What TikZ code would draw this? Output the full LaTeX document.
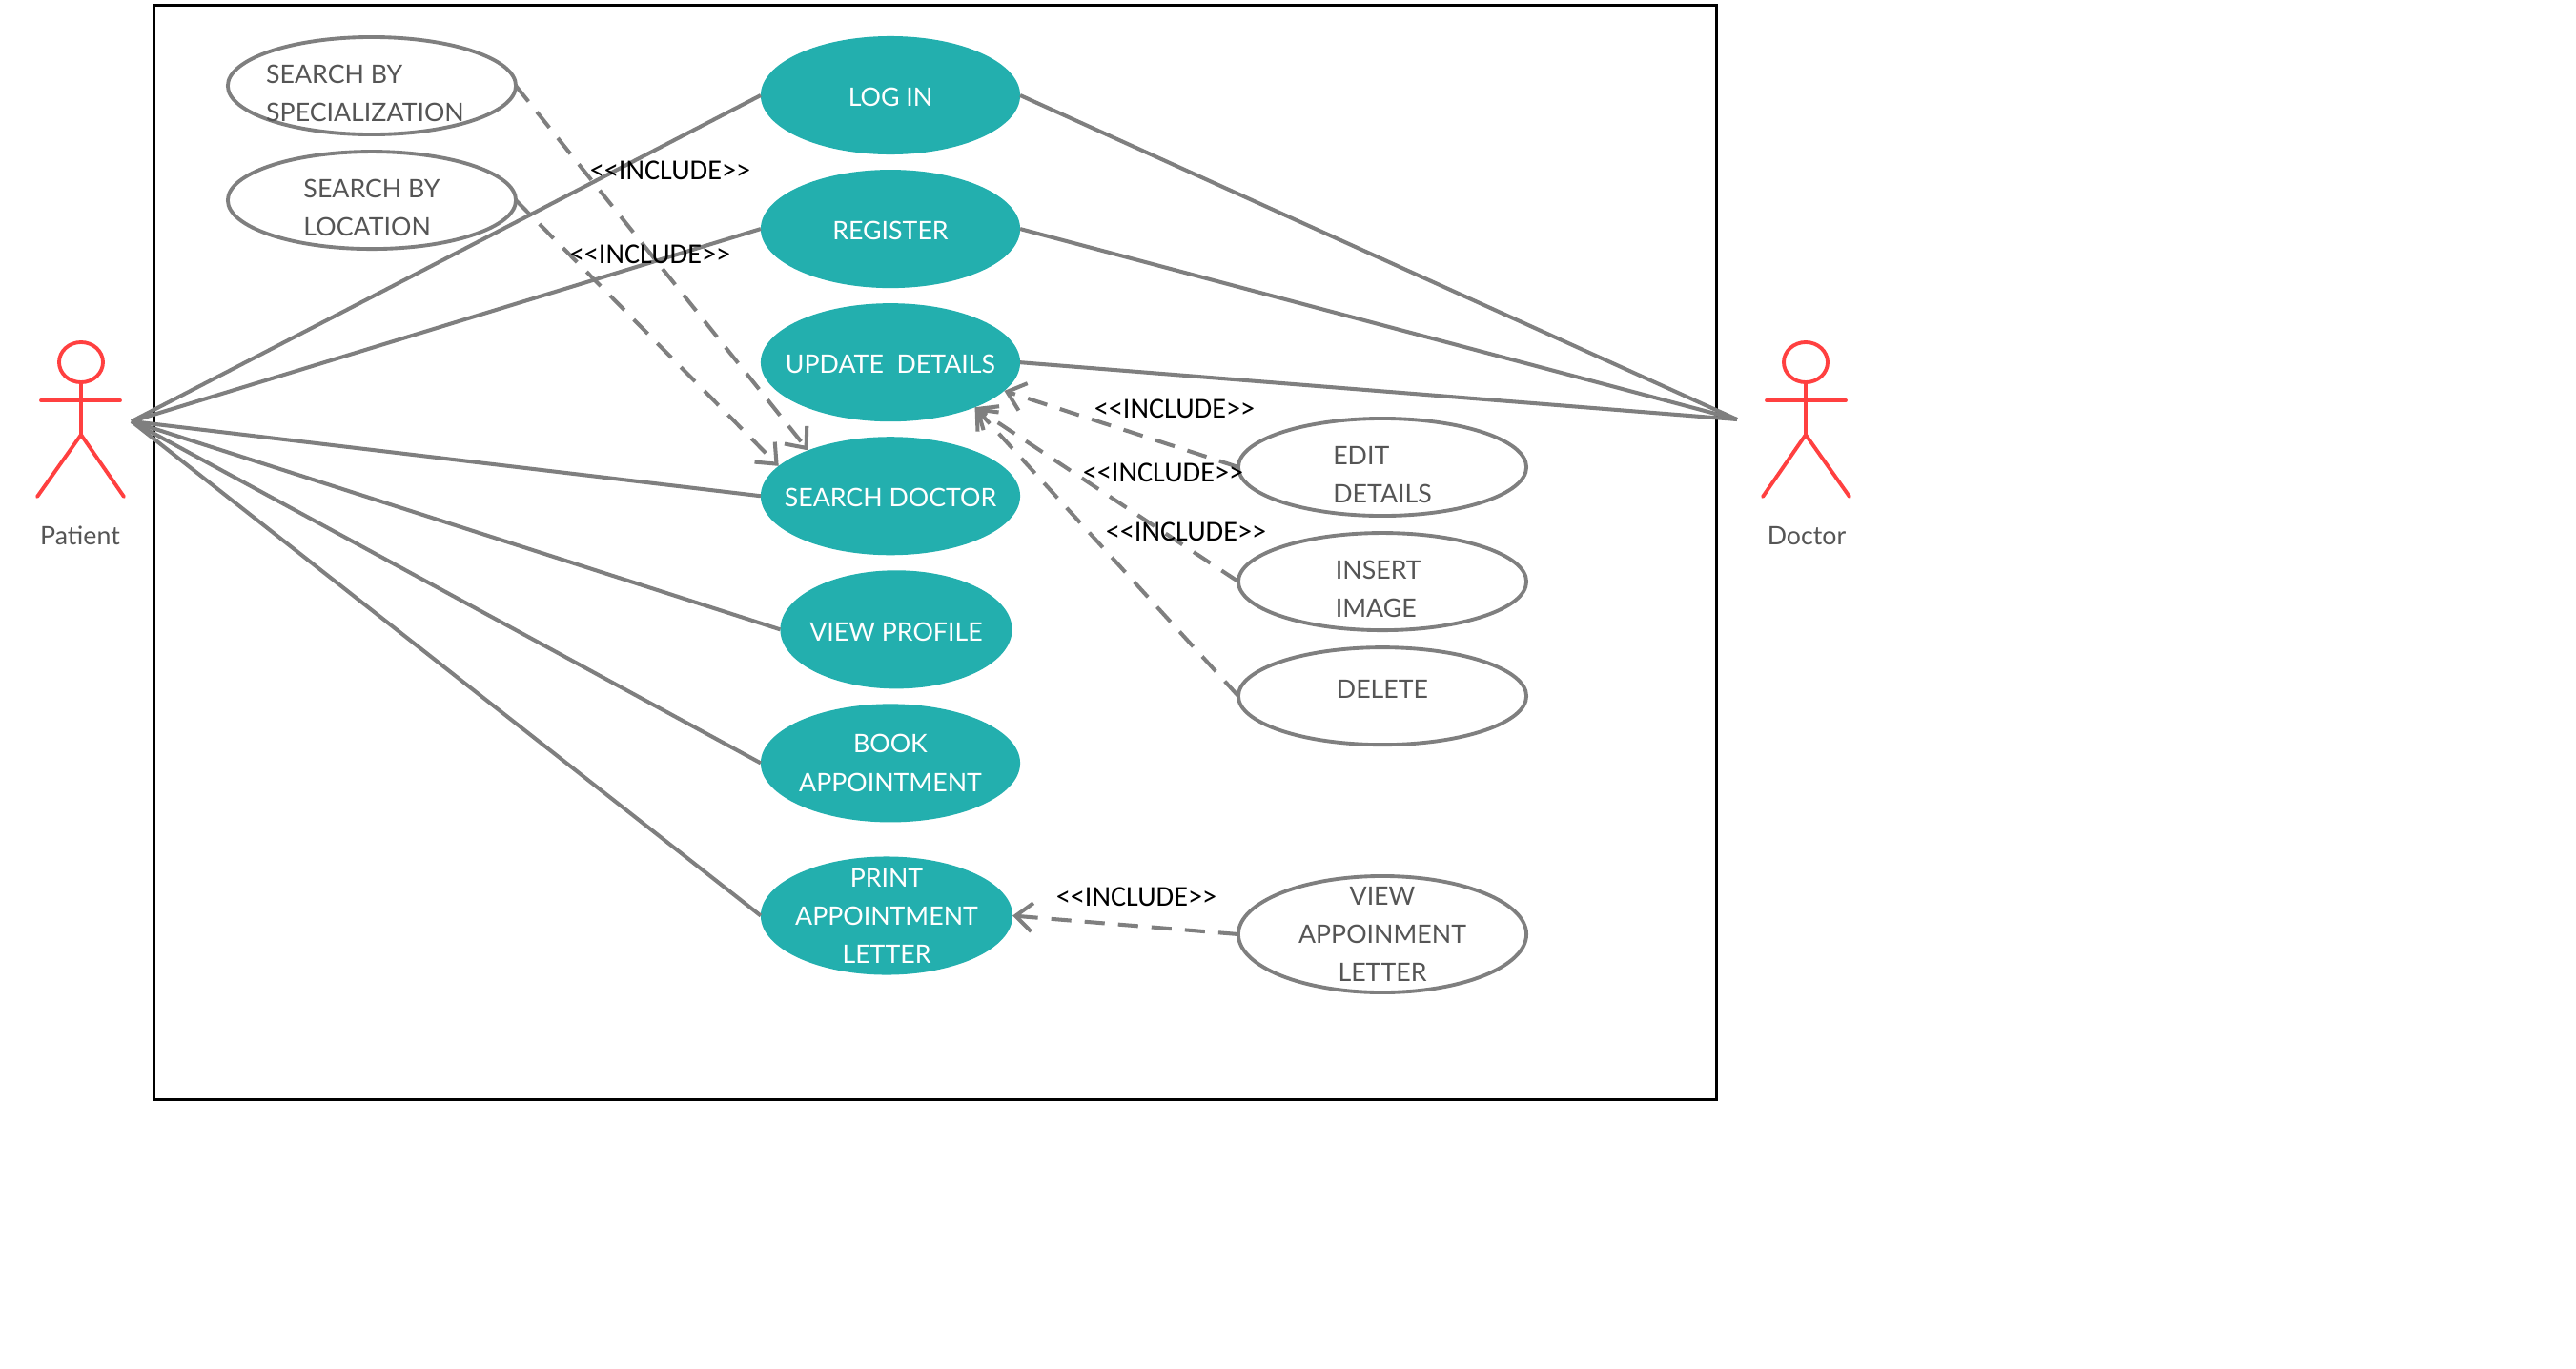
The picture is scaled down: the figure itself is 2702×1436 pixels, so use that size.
\documentclass[tikz,border=0pt]{standalone}
\usepackage{fontspec}
\setmainfont{Lato}
\newfontfamily\includefont{Carlito}
\usepackage{tikz}
\usetikzlibrary{positioning,arrows.meta,shapes.geometric}
\usepackage{xcolor}
\definecolor{ucteal}{HTML}{23AFAE}
\definecolor{ucgray}{HTML}{7F7F7F}
\definecolor{uctext}{HTML}{555555}
\definecolor{actorred}{HTML}{FF4040}

\begin{document}
\begin{tikzpicture}[
  x=0.01cm, y=-0.01cm,
  >={Straight Barb[length=5pt,width=8.5pt]},
  font=\fontsize{7.6}{11.4}\selectfont,
  usecase/.style={ellipse, fill=ucteal, inner sep=0pt, outer sep=0pt, minimum width=2.72cm, minimum height=1.24cm},
  subcase/.style={ellipse, draw=ucgray, line width=1.1pt, inner sep=0pt, outer sep=0pt, minimum width=3.02cm, minimum height=1.02cm},
  tealtext/.style={text=white, align=center, inner sep=0pt},
  tealone/.style={tealtext, yshift=-0.6pt},
  subtext/.style={text=uctext, align=left, inner sep=0pt},
  actorhead/.style={ellipse, draw=actorred, line width=1.1pt, inner sep=0pt, minimum width=0.46cm, minimum height=0.42cm},
  actorline/.style={draw=actorred, line width=1.1pt, line cap=round},
  actorname/.style={text=uctext},
  assoc/.style={draw=ucgray, line width=1.15pt},
  incl/.style={->, draw=ucgray, line width=1.15pt, dash pattern=on 6pt off 4pt},
  incllabel/.style={font=\includefont\fontsize{8.6}{10}\selectfont, text=black, inner sep=0pt},
]
\useasboundingbox (0,0) rectangle (2702,1436);

% System boundary
\node[draw=black, line width=0.9pt, inner sep=0pt, minimum width=16.38cm, minimum height=11.47cm] (system) at (981,579.5) {};

% Main use cases
\node[usecase, label={[tealone]center:LOG IN}] (login) at (934,100) {};
\node[usecase, below=0.16cm of login, label={[tealone]center:REGISTER}] (register) {};
\node[usecase, below=0.16cm of register, label={[tealone]center:UPDATE\ \ DETAILS}] (update) {};
\node[usecase, below=0.16cm of update, label={[tealone]center:SEARCH DOCTOR}] (search) {};
\node[usecase, below=0.16cm of search, xshift=0.06cm, minimum width=2.43cm, label={[tealone]center:VIEW PROFILE}] (profile) {};
\node[usecase, below=0.16cm of profile, xshift=-0.06cm, label={[tealtext]center:BOOK\\APPOINTMENT}] (book) {};
\node[usecase, below=0.36cm of book, xshift=-0.04cm, minimum width=2.64cm, label={[tealtext]center:PRINT\\APPOINTMENT\\LETTER}] (print) {};

% Included use cases
\node[subcase, label={[subtext, xshift=-2pt, yshift=-2.2pt]center:SEARCH BY\\SPECIALIZATION}] (byspec) at (390,90) {};
\node[subcase, below=0.18cm of byspec, label={[subtext, yshift=-2.2pt]center:SEARCH BY\\LOCATION}] (byloc) {};
\node[subcase, label={[subtext, yshift=-2.2pt]center:EDIT\\DETAILS}] (edit) at (1450,490) {};
\node[subcase, below=0.18cm of edit, label={[subtext, xshift=-1.2pt, yshift=-2.2pt]center:INSERT\\IMAGE}] (insert) {};
\node[subcase, below=0.18cm of insert, label={[subtext, yshift=2pt]center:DELETE}] (delete) {};
\node[subcase, minimum height=1.22cm, label={[subtext, align=center]center:VIEW\\APPOINMENT\\LETTER}] (viewletter) at (1450,980) {};

% Patient
\node[actorhead] (phead) at (85,380) {};
\coordinate (phip) at (85,456);
\coordinate (parml) at (43,420);
\coordinate (parmr) at (126,420);
\coordinate (plegl) at (39,521);
\coordinate (plegr) at (130,521);
\draw[actorline] (phead.south) -- (phip);
\draw[actorline] (parml) -- (parmr);
\draw[actorline] (plegl) -- (phip) -- (plegr);
\node[actorname] (patient) at (84,562) {Patient};

% Doctor
\node[actorhead] (dhead) at (1894,380) {};
\coordinate (dhip) at (1894,456);
\coordinate (darml) at (1853,420);
\coordinate (darmr) at (1936,420);
\coordinate (dlegl) at (1849,521);
\coordinate (dlegr) at (1940,521);
\draw[actorline] (dhead.south) -- (dhip);
\draw[actorline] (darml) -- (darmr);
\draw[actorline] (dlegl) -- (dhip) -- (dlegr);
\node[actorname] (doctor) at (1895,562) {Doctor};

% Association hubs
\coordinate (phub) at (138,442);
\coordinate (dhub) at (1822,440);

% Patient links
\draw[assoc] (phub) -- (login.west);
\draw[assoc] (phub) -- (register.west);
\draw[assoc] (phub) -- (search.west);
\draw[assoc] (phub) -- (profile.west);
\draw[assoc] (phub) -- (book.west);
\draw[assoc] (phub) -- (print.west);

% Doctor links
\draw[assoc] (login.east) -- (dhub);
\draw[assoc] (register.east) -- (dhub);
\draw[assoc] (update.east) -- (dhub);

% Include links
\draw[incl] (byspec.east) -- (search.151);
\draw[incl] (byloc.east) -- (search.165);
\draw[incl] (edit.west) -- (update.-14);
\draw[incl] (insert.west) -- (update.-28);
\draw[incl] (delete.west) -- (update.-28);
\draw[incl] (viewletter.west) -- (print.east);

% Include labels
\node[incllabel] (inclspec) at (703,179) {<{}<INCLUDE>{}>};
\node[incllabel] (inclloc) at (682,267) {<{}<INCLUDE>{}>};
\node[incllabel] (incledit) at (1232,429) {<{}<INCLUDE>{}>};
\node[incllabel] (inclinsert) at (1220,496) {<{}<INCLUDE>{}>};
\node[incllabel] (incldelete) at (1244,558) {<{}<INCLUDE>{}>};
\node[incllabel] (inclview) at (1192,941) {<{}<INCLUDE>{}>};

\end{tikzpicture}
\end{document}
